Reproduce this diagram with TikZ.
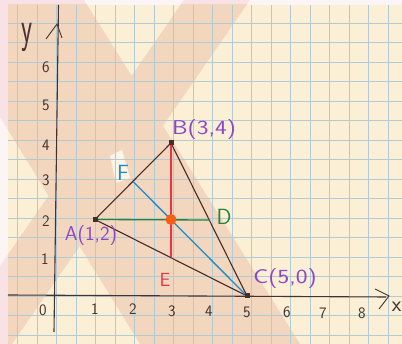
\documentclass[tikz,border=0pt]{standalone}
\usepackage{graphicx}
\definecolor{stripcol}{RGB}{252,245,245}
\definecolor{pinkband}{RGB}{249,226,230}
\definecolor{papercol}{RGB}{251,239,214}
\definecolor{peachcol}{RGB}{242,214,189}
\definecolor{gridcol}{RGB}{178,202,210}
\definecolor{inkcol}{RGB}{72,50,48}
\definecolor{edgecol}{RGB}{75,42,40}
\definecolor{purplecol}{RGB}{140,70,200}
\definecolor{bluecol}{RGB}{30,140,205}
\definecolor{greencol}{RGB}{40,130,55}
\definecolor{redcol}{RGB}{240,50,70}
\definecolor{orangecol}{RGB}{245,95,25}
\tikzset{
  gridline/.style={draw=gridcol, line width=0.5pt},
  axisline/.style={draw=inkcol, line width=1.1pt},
  edgeline/.style={draw=edgecol, line width=1.1pt},
  ticklab/.style={inner sep=0pt, text=inkcol, font=\sffamily\fontsize{16}{16}\selectfont},
  ptlab/.style={inner sep=0pt, text=purplecol, font=\sffamily\fontsize{20}{20}\selectfont},
  midlab/.style={inner sep=0pt, font=\sffamily\fontsize{22}{22}\selectfont},
  vtx/.style={rectangle, fill=edgecol, minimum size=5pt, inner sep=0pt},
  cdot/.style={circle, fill=orangecol, minimum size=11pt, inner sep=0pt}
}
\begin{document}
\begin{tikzpicture}[x=1pt,y=-1pt]
\useasboundingbox (0,0) rectangle (402,344);
% background strips and paper
\fill[stripcol] (0,0) rectangle (402,344);
\fill[pinkband] (0,0) -- (84,0) -- (300,344) -- (140,344) -- (0,117) -- cycle;
\fill[pinkband] (184,0) -- (250,0) -- (12,344) -- (0,344) -- (0,266) -- cycle;
\fill[papercol] (8,5) rectangle (402,344);
\begin{scope}
  \clip (8,5) rectangle (402,344);
  \fill[peachcol] (0,0) -- (84,0) -- (300,344) -- (140,344) -- (0,117) -- cycle;
  \fill[peachcol] (184,0) -- (250,0) -- (12,344) -- (0,344) -- (0,266) -- cycle;
  \fill[papercol!60!white] (110,156) -- (122,150) -- (130,178) -- (116,183) -- cycle;
  \foreach \k in {-2,...,17} \draw[gridline] ({56.5+19.5*\k},5) -- ({56.5+19.5*\k},344);
  \foreach \k in {-2,...,14} \draw[gridline] (8,{296-19.5*\k}) -- (402,{296-19.5*\k});
\end{scope}
% axes
\coordinate (ytop) at (58.5,5);
\coordinate (ybot) at (54,332);
\coordinate (xleft) at (8,295);
\coordinate (xright) at (386,297);
\draw[axisline] (ytop) -- (ybot);
\draw[axisline] (xleft) -- (xright);
\coordinate (ytip) at (57,24);
\coordinate (yl) at (46,39);
\coordinate (yr) at (62,38);
\draw[axisline, line width=0.9pt] (yl) -- (ytip) -- (yr);
\coordinate (xtip) at (389,296);
\coordinate (xu) at (375,289);
\coordinate (xd) at (379,309);
\draw[axisline, line width=0.9pt] (xu) -- (xtip) -- (xd);
\node[inner sep=0pt, text=inkcol, font=\sffamily\fontsize{32}{32}\selectfont] (ylab) at (27,37) {\scalebox{0.8}[1.4]{y}};
\node[inner sep=0pt, text=inkcol, font=\sffamily\fontsize{22}{22}\selectfont] (xlab) at (396.5,307) {x};
% tick labels
\node[ticklab] (x0) at (43,310) {0};
\node[ticklab] (x1) at (95,309) {1};
\node[ticklab] (x2) at (133,309) {2};
\node[ticklab] (x3) at (172,311) {3};
\node[ticklab] (x4) at (209,311) {4};
\node[ticklab] (x5) at (247,312) {5};
\node[ticklab] (x6) at (287,312) {6};
\node[ticklab] (x7) at (323,313) {7};
\node[ticklab] (x8) at (362,313) {8};
\node[ticklab] (y6) at (46,67) {6};
\node[ticklab] (y5) at (46,105) {5};
\node[ticklab] (y4) at (46,145) {4};
\node[ticklab] (y3) at (46,180) {3};
\node[ticklab] (y2) at (46,221) {2};
\node[ticklab] (y1) at (45,259) {1};
% points
\coordinate (A) at (95,219.5);
\coordinate (B) at (171,143);
\coordinate (C) at (247,296);
\coordinate (D) at (210,220);
\coordinate (E) at (171,257.5);
\coordinate (F) at (133,181.5);
\coordinate (G) at (171,219.5);
% triangle
\draw[edgeline] (A) -- (B) -- (C) -- cycle;
% medians
\draw[draw=redcol, line width=1.1pt] (B) -- (E);
\draw[draw=greencol, line width=1.3pt] (A) -- (D);
\draw[draw=bluecol, line width=1.3pt] (F) -- (C);
\node[cdot] (Gdot) at (G) {};
\node[vtx] (Am) at (A) {};
\node[vtx] (Bm) at (B) {};
\node[vtx] (Cm) at (C) {};
% labels
\node[ptlab] (Blab) at (204,130) {\scalebox{1.25}[1]{B(3,4)}};
\node[ptlab] (Alab) at (91,236) {\scalebox{1.02}[1]{A(1,2)}};
\node[ptlab] (Clab) at (285,279) {\scalebox{1.25}[1]{C(5,0)}};
\node[midlab, text=bluecol] (Flab) at (123,173) {F};
\node[midlab, text=greencol] (Dlab) at (224,217) {D};
\node[midlab, text=redcol, font=\sffamily\fontsize{19}{19}\selectfont] (Elab) at (165,280) {E};
\end{tikzpicture}
\end{document}
